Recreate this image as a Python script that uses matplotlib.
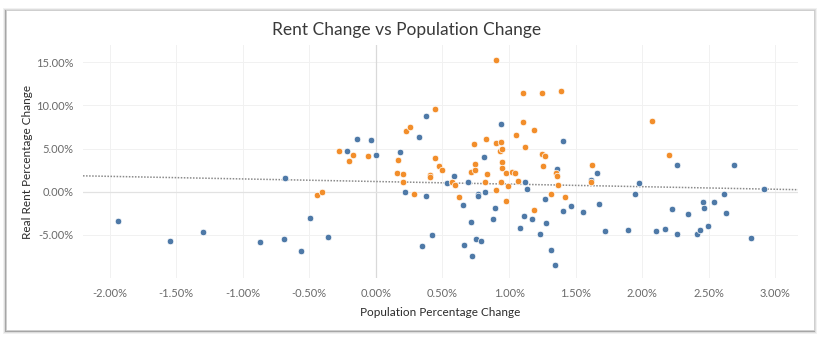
import numpy as np
import matplotlib
matplotlib.use('Agg')
import matplotlib.pyplot as plt
from matplotlib.patches import FancyBboxPatch
from matplotlib.ticker import FuncFormatter, MultipleLocator

# population change (%) and real rent change (%) per metro, split by colour group
blue_pop = [-1.935, -1.548, -1.297, -0.869, -0.687, -0.682, -0.565, -0.492, -0.357, -0.219, -0.141, -0.039, 0.0,
            0.377, 0.327, 0.182, 0.216, 0.374, 0.424, 0.349, 0.537, 0.587, 0.694, 0.652, 0.712, 0.767, 0.767,
            0.820, 0.809, 0.755, 0.790, 0.664, 0.724, 0.940, 0.897, 0.880, 1.080, 1.115, 1.122, 1.135,
            1.405, 1.363, 1.270, 1.172, 1.280, 1.230, 1.315, 1.348, 1.408, 1.465, 1.558, 1.618, 1.658, 1.678,
            1.721, 1.896, 1.943, 1.973, 2.106, 2.174, 2.221, 2.258, 2.264, 2.346, 2.414, 2.436, 2.454, 2.461,
            2.491, 2.541, 2.614, 2.631, 2.691, 2.819, 2.917]
blue_rent = [-3.34, -5.66, -4.66, -5.78, -5.43, 1.57, -6.90, -2.99, -5.24, 4.66, 6.13, 5.97, 4.20,
             8.76, 6.32, 4.55, -0.02, -0.49, -5.05, -6.25, 0.99, 1.84, 1.18, -1.49, -3.46, -0.26, -0.49,
             -0.02, 3.97, -5.43, -5.66, -6.13, -7.45, 7.83, -1.88, -3.11, -4.20, -2.81, 1.18, 0.37,
             5.86, 2.61, -0.83, -3.11, -3.65, -4.93, -6.79, -8.49, -2.26, -1.68, -2.38, 1.37, 2.15, -1.42,
             -4.50, -4.39, -0.21, 1.02, -4.58, -4.32, -2.06, 3.15, -4.93, -2.61, -4.93, -4.47, -1.14, -1.88,
             -3.92, -1.14, -0.21, -2.41, 3.15, -5.32, 0.29]

orange_pop = [-0.446, -0.404, -0.279, -0.174, -0.199, -0.062,
              0.444, 0.224, 0.259, 0.169, 0.447, 0.477, 0.497, 0.156, 0.206, 0.206, 0.409, 0.409, 0.289,
              0.574, 0.597, 0.627, 0.740, 0.742, 0.712, 0.742, 0.830, 0.832, 0.817, 0.902, 0.905, 0.942,
              0.935, 0.950, 0.947, 0.947, 0.977, 1.020, 1.047, 0.942, 0.905, 0.990, 0.977, 1.102, 1.102,
              1.050, 1.122, 1.067,
              1.248, 1.388, 1.188, 1.250, 1.267, 1.255, 1.355, 1.357, 1.365, 1.315, 1.418, 1.190, 1.623,
              1.618, 2.076, 2.203]
orange_rent = [-0.37, -0.02, 4.66, 4.27, 3.54, 4.08,
               9.57, 7.06, 7.52, 3.73, 3.89, 2.96, 2.49, 2.11, 2.03, 1.07, 1.99, 1.72, -0.32,
               1.18, 0.79, -0.67, 5.55, 3.16, 2.34, 2.49, 6.13, 2.03, 1.14, 15.26, 5.66, 5.74,
               4.70, 4.93, 3.50, 2.69, 2.11, 2.23, 2.11, 1.18, 0.14, 0.67, -1.07, 11.43, 8.10,
               6.52, 5.20, 1.25,
               11.43, 11.62, 7.10, 4.35, 4.16, 2.96, 2.11, 1.80, 0.83, -0.29, -0.56, -2.07, 3.15,
               1.18, 8.18, 4.20]

plt.rcParams['font.family'] = ['Lato', 'DejaVu Sans']

fig = plt.figure(figsize=(8.2, 3.37), dpi=100)
fig.patch.set_facecolor('white')

# card with a soft grey shadow, kept behind the axes
W, H = 820.0, 337.0
for i, a in enumerate([0.10, 0.16, 0.25, 0.40]):
    pad = 3 - i * 0.8
    fig.patches.append(FancyBboxPatch(((6 - pad) / W, (7 - pad - 1) / H), (808 + 2 * pad) / W,
                                      (320 + 2 * pad) / H, boxstyle='square,pad=0',
                                      transform=fig.transFigure, facecolor='#7a7a7a', alpha=a,
                                      edgecolor='none', zorder=-3))
fig.patches.append(FancyBboxPatch((6 / W, 7 / H), 808 / W, 320 / H, boxstyle='square,pad=0',
                                  transform=fig.transFigure, facecolor='white', edgecolor='#cfcfcf',
                                  linewidth=0.6, zorder=-2))

ax = fig.add_axes([83 / W, 1 - 278 / H, (798 - 83) / W, (278 - 45) / H])
ax.set_zorder(1)
ax.set_facecolor('none')

ax.set_xlim(-2.2, 3.17)
ax.set_ylim(-10, 17)
ax.xaxis.set_major_locator(MultipleLocator(0.5))
ax.yaxis.set_major_locator(MultipleLocator(5))
ax.xaxis.set_major_formatter(FuncFormatter(lambda v, p: '{:.2f}%'.format(v).replace('-0.00', '0.00')))
ax.yaxis.set_major_formatter(FuncFormatter(lambda v, p: '' if v > 16 or v < -9 else '{:.2f}%'.format(v)))
ax.tick_params(length=0, labelsize=8, colors='#6a6a6a', pad=7)
ax.grid(True, color='#f1f1f1', linewidth=0.7)
ax.set_axisbelow(True)
for s in ax.spines.values():
    s.set_visible(False)
ax.axvline(0, color='#d9d9d9', linewidth=0.9, zorder=1)
ax.axhline(0, color='#e2e2e2', linewidth=0.9, zorder=1)

ax.scatter(blue_pop, blue_rent, s=22, color='#4e79a7', edgecolor='white', linewidth=0.5, zorder=3)
ax.scatter(orange_pop, orange_rent, s=22, color='#f28e2b', edgecolor='white', linewidth=0.5, zorder=3)

# linear trend across every point
all_x = np.array(blue_pop + orange_pop)
all_y = np.array(blue_rent + orange_rent)
m, b = np.polyfit(all_x, all_y, 1)
tx = np.array(ax.get_xlim())
ax.plot(tx, m * tx + b, color='#8a8a8a', linestyle=(0, (1, 1)), linewidth=1.1, zorder=2)

ax.set_xlabel('Population Percentage Change', fontsize=8.5, color='#2b2b2b', labelpad=6)
ax.set_ylabel('Real Rent Percentage Change', fontsize=8.5, color='#2b2b2b', labelpad=2)
fig.text(407 / W, 1 - 30 / H, 'Rent Change vs Population Change', ha='center', va='center',
         fontsize=12.5, color='#3a3a3a')

fig.savefig('out.png', dpi=100)
